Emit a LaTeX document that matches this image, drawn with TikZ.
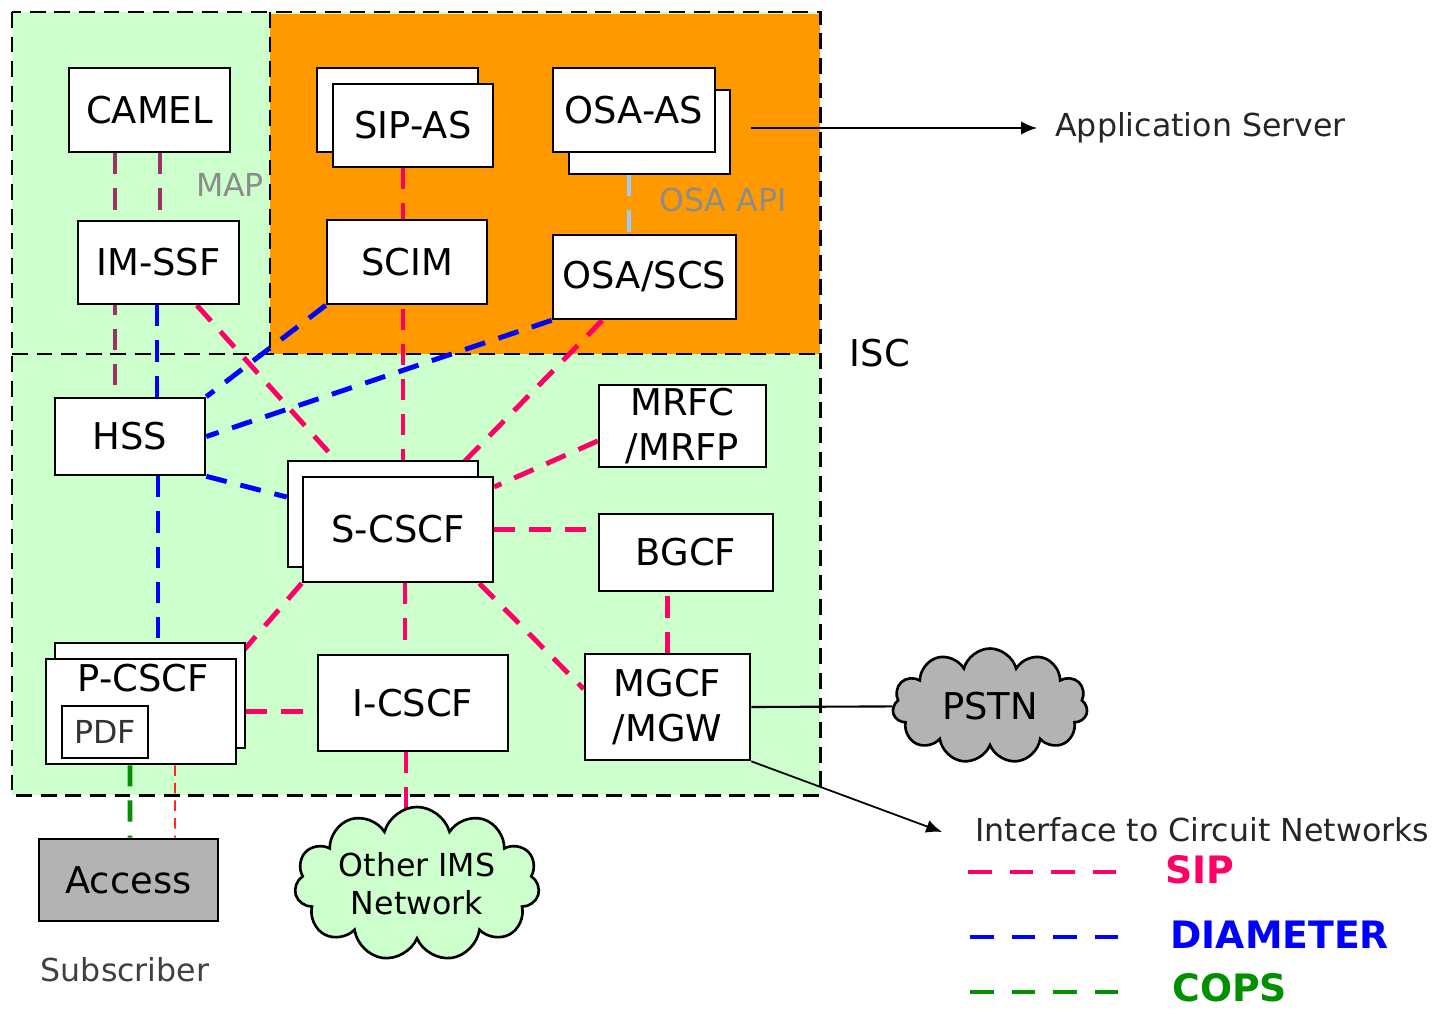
\documentclass[tikz,border=0pt]{standalone}
\usepackage{fontspec}
\setmainfont{DejaVu Sans}
\usetikzlibrary{positioning,calc,shapes.symbols,arrows.meta}
\tikzset{>={Latex[length=9pt,width=7.5pt]}}
\definecolor{sipcol}{HTML}{FF0066}
\definecolor{diamcol}{HTML}{0000FF}
\definecolor{copscol}{HTML}{009000}
\definecolor{mapcol}{HTML}{993366}
\definecolor{apicol}{HTML}{99CCFF}
\definecolor{imsgreen}{HTML}{CCFFCC}
\definecolor{asorange}{HTML}{FF9900}
\definecolor{netgray}{HTML}{B3B3B3}
\newcommand{\nodefont}{\fontsize{21}{25.5}\selectfont}
\newcommand{\notefont}{\fontsize{18}{21.5}\selectfont}
\newcommand{\legfont}{\fontsize{21.5}{26}\selectfont\bfseries}
\tikzstyle{block}=[draw,rectangle,fill=white,line width=1.5pt,font=\nodefont,inner sep=0pt]
\tikzstyle{netcloud}=[draw,cloud,cloud puffs=11,aspect=2,line width=1.5pt,inner sep=0pt,align=center]
\tikzstyle{frame}=[black,line width=1.7pt,dash pattern=on 9pt off 5pt]
\tikzstyle{sip}=[draw=sipcol,line width=2.8pt,dash pattern=on 12pt off 8pt]
\tikzstyle{diam}=[draw=diamcol,line width=2.8pt,dash pattern=on 12pt off 8pt]
\tikzstyle{cops}=[draw=copscol,line width=2.8pt,dash pattern=on 12pt off 8pt]
\tikzstyle{map}=[draw=mapcol,line width=2.8pt,dash pattern=on 12pt off 8pt]
\tikzstyle{osaapi}=[draw=apicol,line width=2.8pt,dash pattern=on 12pt off 8pt]
\tikzstyle{sipthin}=[draw=red!85,line width=1.1pt,dash pattern=on 6pt off 4pt]
\tikzstyle{legline}=[line width=2.8pt,dash pattern=on 13.4pt off 10.3pt]
\pgfdeclarelayer{regions}
\pgfdeclarelayer{links}
\pgfsetlayers{regions,links,main}

\begin{document}
\begin{tikzpicture}[x=0.02cm,y=-0.02cm]
\useasboundingbox (0,0) rectangle (1443,1010);
\begin{pgfonlayer}{regions}
	\fill[imsgreen] (12,12) rectangle (820,795);
	\fill[asorange] (270,14) rectangle (820,354);
	\draw[frame] (12,12) rectangle (820,795);
	\draw[frame] (12,354) -- (820,354);
	\draw[frame] (270,12) -- (270,354);
\end{pgfonlayer}

\node (camel) at (149.5,110) [block,minimum width=3.22cm,minimum height=1.68cm]{CAMEL};
\node (sipasb) at (397.5,110) [block,minimum width=3.22cm,minimum height=1.68cm]{};
\node (sipas) at (413,125.5) [block,minimum width=3.2cm,minimum height=1.66cm]{SIP-AS};
\node (osaasb) at (649.5,132) [block,minimum width=3.22cm,minimum height=1.68cm]{};
\node (osaas) at (634,110) [block,minimum width=3.24cm,minimum height=1.68cm]{OSA-AS};
\node (imssf) at (158.5,262.5) [block,minimum width=3.22cm,minimum height=1.66cm]{IM-SSF};
\node (scim) at (407,262) [block,minimum width=3.2cm,minimum height=1.68cm]{SCIM};
\node (osascs) at (644.5,277) [block,minimum width=3.66cm,minimum height=1.68cm]{OSA/SCS};
\node (hss) at (130,436.5) [block,minimum width=3cm,minimum height=1.54cm]{HSS};
\node (scscfb) at (383,514) [block,minimum width=3.8cm,minimum height=2.12cm]{};
\node (scscf) at (398,529.5) [block,minimum width=3.8cm,minimum height=2.1cm]{S-CSCF};
\node (mrfc) at (682.5,426) [block,align=center,minimum width=3.34cm,minimum height=1.64cm]{MRFC\\/MRFP};
\node (bgcf) at (686,552.5) [block,minimum width=3.48cm,minimum height=1.54cm]{BGCF};
\node (mgcf) at (667.5,707) [block,align=center,minimum width=3.3cm,minimum height=2.12cm]{MGCF\\/MGW};
\node (pcscfb) at (150,695.5) [block,minimum width=3.8cm,minimum height=2.1cm]{};
\node (pcscf) at (141,711.5) [block,minimum width=3.8cm,minimum height=2.1cm]{};
\node (pcscft) at (143,678) [font=\nodefont,inner sep=0pt]{P-CSCF};
\node (pdf) at (105,732) [block,line width=1.3pt,font=\notefont,text=black!80,minimum width=1.72cm,minimum height=1.04cm]{PDF};
\node (icscf) at (413,703) [block,minimum width=3.8cm,minimum height=1.92cm]{I-CSCF};
\node (access) at (128.5,880) [block,fill=netgray,minimum width=3.58cm,minimum height=1.64cm]{Access};
\node (subscr) at (125,970) [font=\notefont,text=black!75]{Subscriber};
\node (other) at (417,884) [netcloud,fill=imsgreen,font=\notefont,minimum width=4.9cm,minimum height=2.44cm]{Other IMS\\Network};
\node (pstn) at (990,706) [netcloud,fill=netgray,font=\nodefont,minimum width=3.9cm,minimum height=2.3cm]{PSTN};

\node (map) at (230,185) [font=\notefont,text=black!45,inner sep=0pt]{MAP};
\node (api) at (723,200) [font=\notefont,text=black!45,inner sep=0pt]{OSA API};
\node (isc) at (880,353) [font=\nodefont,inner sep=0pt]{ISC};
\node (appsrv) at (1055,128) [anchor=west,font=\notefont,text=black!85,inner sep=0pt]{Application Server};
\node (iface) at (975,830) [anchor=west,font=\notefont,text=black!85,inner sep=0pt]{Interface to Circuit Networks};

\begin{pgfonlayer}{links}
	\draw[map] ($(camel.south)+(-34.5,0)$) -- ($(hss.north)+(-15,0)$);
	\draw[map] ($(camel.south)+(10.5,0)$) -- ($(imssf.north)+(1.5,0)$);
	\draw[diam] ($(imssf.south)+(-1.5,0)$) -- ($(hss.north)+(27,0)$);
	\draw[diam] ($(hss.south)+(28,0)$) -- ($(pcscfb.north)+(8,0)$);
	\draw[diam] (scim.south west) -- (hss.north east);
	\draw[diam] (osascs.south west) -- (hss.east);
	\draw[diam] (hss.south east) -- (scscfb.170);
	\draw[osaapi] ($(osaasb.south)+(-20.5,0)$) -- ($(osascs.north)+(-15.5,0)$);
	\draw[sip] (imssf) -- (scscf);
	\draw[sip] ($(sipas.south)+(-10,0)$) -- ($(scscfb.north)+(20,0)$);
	\draw[sip] (osascs) -- (scscf);
	\draw[sip] (mrfc.190) -- (scscf);
	\draw[sip] (scscf) -- (scscf -| bgcf.west);
	\draw[sip] ($(scscf.south east)+(-15,0)$) -- ($(mgcf.west)+(0,-18)$);
	\draw[sip] (scscf.south west) -- (pcscf.north east);
	\draw[sip] ($(scscf.south)+(7,0)$) -- ($(icscf.north)+(-8,0)$);
	\draw[sip] (mgcf.north) -- (mgcf.north |- bgcf.south);
	\draw[sip] (pcscf.east -| pcscfb.east) -- (pcscf.east -| icscf.west);
	\draw[sip] ($(icscf.south)+(-7,0)$) -- ($(other)+(-11,0)$);
	\draw[cops] ($(pcscf.south)+(-11,0)$) -- ($(access.north)+(1.5,0)$);
	\draw[sipthin] ($(pcscf.south)+(34,0)$) -- ($(access.north)+(46.5,0)$);
	\draw[line width=1.2pt] (mgcf.east) -- (pstn);
	\draw[->,line width=1pt] ($(osaasb.east)+(20,-4)$) -- ($(appsrv.west)+(-18,0)$);
	\draw[->,line width=1pt] (mgcf.south east) -- ($(iface.west)+(-33,2)$);
\end{pgfonlayer}

\coordinate (lsip) at (968,872);
\coordinate (ldiam) at (970,937);
\coordinate (lcops) at (970,992);
\draw[legline,sipcol] (lsip) -- ++(152,0);
\draw[legline,diamcol] (ldiam) -- ++(152,0);
\draw[legline,copscol] (lcops) -- ++(152,0);
\node (sipleg) at (1165,870) [anchor=west,font=\legfont,text=sipcol,inner sep=0pt]{SIP};
\node (diamleg) at (1170,935) [anchor=west,font=\legfont,text=diamcol,inner sep=0pt]{DIAMETER};
\node (copsleg) at (1172,988) [anchor=west,font=\legfont,text=copscol,inner sep=0pt]{COPS};
\end{tikzpicture}
\end{document}
